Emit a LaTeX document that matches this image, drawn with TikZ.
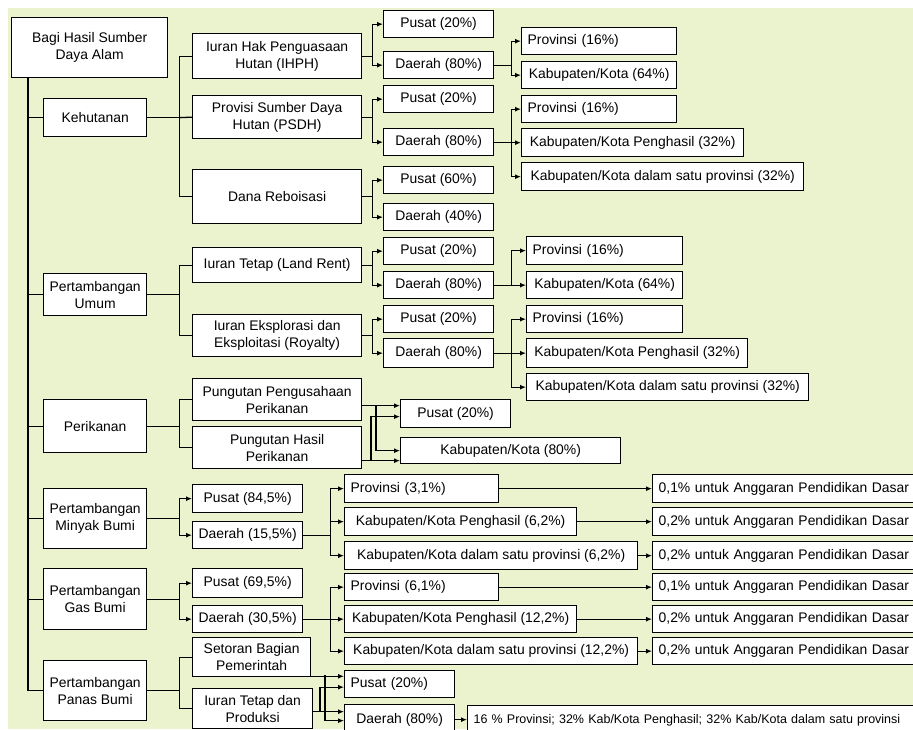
\documentclass[tikz,border=0pt]{standalone}
\usepackage{fontspec}
\setmainfont{Liberation Sans}
\usetikzlibrary{arrows.meta}
\definecolor{bgijo}{RGB}{234,242,206}
\newcommand{\fs}{\fontsize{13.9}{17}\selectfont}

\begin{document}
\begin{tikzpicture}[x=1pt,y=-1pt,
  kotak/.style={draw,line width=1.3pt,fill=white,font=\fs,align=center,anchor=north west,inner sep=0pt},
  lv1/.style={kotak,minimum width=103},
  lv2/.style={kotak,minimum width=169},
  lv3/.style={kotak,minimum width=110,minimum height=27},
  kiri/.style={align=left,text width=#1,inner xsep=6pt},
  garis/.style={line width=1.3pt},
  panah/.style={garis,-{Latex[length=6pt,width=5pt]}}]

  \clip (0,0) rectangle (913,729);
  \fill[white] (0,0) rectangle (913,729);
  \fill[bgijo] (8,8) rectangle (913,729);

  \node[kotak,minimum width=156,minimum height=60] (akar) at (11,17) {Bagi Hasil Sumber\\Daya Alam};
  \node[lv1,minimum height=38] (hutan) at (43,98) {Kehutanan};
  \node[lv1,minimum height=42] (umum) at (43,273) {Pertambangan\\Umum};
  \node[lv1,minimum height=53] (ikan) at (43,399) {Perikanan};
  \node[lv1,minimum height=60] (minyak) at (43,488) {Pertambangan\\Minyak Bumi};
  \node[lv1,minimum height=61] (gas) at (43,568) {Pertambangan\\Gas Bumi};
  \node[lv1,minimum height=60] (panas) at (43,660) {Pertambangan\\Panas Bumi};

  \node[lv2,minimum height=45] (ihph) at (192,33) {Iuran Hak Penguasaan\\Hutan (IHPH)};
  \node[lv2,minimum height=43] (psdh) at (192,95) {Provisi Sumber Daya\\Hutan (PSDH)};
  \node[lv2,minimum height=54] (dana) at (192,169) {Dana Reboisasi};
  \node[lv2,minimum height=35] (tetap) at (192,247) {Iuran Tetap (Land Rent)};
  \node[lv2,minimum height=42] (eksp) at (192,314) {Iuran Eksplorasi dan\\Eksploitasi (Royalty)};
  \node[lv2,minimum height=42] (usaha) at (192,378) {Pungutan Pengusahaan\\Perikanan};
  \node[lv2,minimum height=42] (hasil) at (192,426) {Pungutan Hasil\\Perikanan};
  \node[lv3,minimum height=28] (pusm) at (192,484) {Pusat (84,5\%)};
  \node[lv3] (daem) at (192,521) {Daerah (15,5\%)};
  \node[lv3,minimum height=29] (pusg) at (192,568) {Pusat (69,5\%)};
  \node[lv3] (daeg) at (192,605) {Daerah (30,5\%)};
  \node[kotak,minimum width=118,minimum height=39] (setor) at (192,637) {Setoran Bagian\\Pemerintah};
  \node[kotak,minimum width=120,minimum height=40] (itp) at (192,688) {Iuran Tetap dan\\Produksi};

  \node[lv3] (p1) at (383,10) {Pusat (20\%)};
  \node[lv3] (d1) at (383,51) {Daerah (80\%)};
  \node[lv3] (p2) at (383,85) {Pusat (20\%)};
  \node[lv3] (d2) at (383,128) {Daerah (80\%)};
  \node[lv3] (p3) at (383,166) {Pusat (60\%)};
  \node[lv3] (d3) at (383,203) {Daerah (40\%)};
  \node[lv3] (p4) at (383,237) {Pusat (20\%)};
  \node[lv3] (d4) at (383,271) {Daerah (80\%)};
  \node[lv3] (p5) at (383,305) {Pusat (20\%)};
  \node[lv3,minimum height=29] (d5) at (383,338) {Daerah (80\%)};
  \node[lv3,minimum height=28] (pi) at (400,399) {Pusat (20\%)};
  \node[lv3,minimum width=220,minimum height=26] (ki) at (400,437) {Kabupaten/Kota (80\%)};

  \node[lv3,kiri=143] (pr1) at (521,27) {Provinsi (16\%)};
  \node[lv3,minimum width=155] (kb1) at (521,61) {Kabupaten/Kota (64\%)};
  \node[lv3,kiri=143] (pr2) at (521,95) {Provinsi (16\%)};
  \node[lv3,minimum width=222,minimum height=28] (kp2) at (521,128) {Kabupaten/Kota Penghasil (32\%)};
  \node[lv3,minimum width=282,minimum height=28] (kd2) at (521,162) {Kabupaten/Kota dalam satu provinsi (32\%)};
  \node[lv3,kiri=144,minimum height=28] (pr3) at (526,236) {Provinsi (16\%)};
  \node[lv3,minimum width=156] (kb3) at (526,271) {Kabupaten/Kota (64\%)};
  \node[lv3,kiri=144] (pr4) at (526,305) {Provinsi (16\%)};
  \node[lv3,minimum width=221,minimum height=29] (kp4) at (526,338) {Kabupaten/Kota Penghasil (32\%)};
  \node[lv3,minimum width=282] (kd4) at (526,373) {Kabupaten/Kota dalam satu provinsi (32\%)};

  \node[lv3,kiri=142,minimum height=28] (prm) at (344,474) {Provinsi (3,1\%)};
  \node[lv3,minimum width=232,minimum height=28] (kpm) at (344,507) {Kabupaten/Kota Penghasil (6,2\%)};
  \node[lv3,minimum width=293,minimum height=28] (kdm) at (344,541) {Kabupaten/Kota dalam satu provinsi (6,2\%)};
  \node[lv3,kiri=142] (prg) at (344,573) {Provinsi (6,1\%)};
  \node[lv3,minimum width=232] (kpg) at (344,605) {Kabupaten/Kota Penghasil (12,2\%)};
  \node[lv3,minimum width=293] (kdg) at (344,637) {Kabupaten/Kota dalam satu provinsi (12,2\%)};
  \node[lv3,kiri=98] (pp) at (344,670) {Pusat (20\%)};
  \node[lv3,minimum height=30] (dp) at (344,704) {Daerah (80\%)};

  \node[lv3,kiri=258,minimum height=28] (z1) at (652,474) {0,1\% untuk Anggaran Pendidikan Dasar};
  \node[lv3,kiri=258,minimum height=28] (z2) at (652,507) {0,2\% untuk Anggaran Pendidikan Dasar};
  \node[lv3,kiri=258,minimum height=28] (z3) at (652,541) {0,2\% untuk Anggaran Pendidikan Dasar};
  \node[lv3,kiri=258] (z4) at (652,573) {0,1\% untuk Anggaran Pendidikan Dasar};
  \node[lv3,kiri=258] (z5) at (652,605) {0,2\% untuk Anggaran Pendidikan Dasar};
  \node[lv3,kiri=258] (z6) at (652,637) {0,2\% untuk Anggaran Pendidikan Dasar};
  \node[lv3,kiri=500,minimum height=30,font=\fontsize{12.5}{15}\selectfont] (z7) at (467,705) {16 \% Provinsi; 32\% Kab/Kota Penghasil; 32\% Kab/Kota dalam satu provinsi};

  % batang utama
  \draw[garis] ([xshift=17pt]akar.south west) coordinate (tr) |- (panas.west);
  \draw[garis] (hutan.west) -- (hutan.west -| tr);
  \draw[garis] (umum.west) -- (umum.west -| tr);
  \draw[garis] (ikan.west) -- (ikan.west -| tr);
  \draw[garis] (minyak.west) -- (minyak.west -| tr);
  \draw[garis] (gas.west) -- (gas.west -| tr);

  \draw[garis] (hutan.east) -- ++(32,0) coordinate (kh);
  \draw[garis] (ihph.west) -| (kh) |- (dana.west);
  \draw[garis] (kh) -- (psdh.west);
  \draw[garis] (umum.east) -- ++(32,0) coordinate (ku);
  \draw[garis] (tetap.west) -| (ku) |- (eksp.west);
  \draw[garis] (ikan.east) -- ++(32,0) coordinate (kik);
  \draw[garis] (usaha.west) -| (kik) |- (hasil.west);
  \draw[garis] (minyak.east) -- ++(32,0) coordinate (km);
  \draw[panah] (km) |- (pusm.west);
  \draw[panah] (km) |- (daem.west);
  \draw[garis] (gas.east) -- ++(32,0) coordinate (kg);
  \draw[panah] (kg) |- (pusg.west);
  \draw[panah] (kg) |- (daeg.west);
  \draw[garis] (panas.east) -- ++(32,0) coordinate (kp);
  \draw[garis] (setor.west) -| (kp) |- (itp.west);

  \draw[garis] (ihph.east) -- ++(10,0) coordinate (c1);
  \draw[panah] (c1) |- (p1.west);
  \draw[panah] (c1) |- (d1.west);
  \draw[garis] (psdh.east) -- ++(10,0) coordinate (c2);
  \draw[panah] (c2) |- (p2.west);
  \draw[panah] (c2) |- (d2.west);
  \draw[garis] (dana.east) -- ++(10,0) coordinate (c3);
  \draw[panah] (c3) |- (p3.west);
  \draw[panah] (c3) |- (d3.west);
  \draw[garis] (tetap.east) -- ++(10,0) coordinate (c4);
  \draw[panah] (c4) |- (p4.west);
  \draw[panah] (c4) |- (d4.west);
  \draw[garis] (eksp.east) -- ++(10,0) coordinate (c5);
  \draw[panah] (c5) |- (p5.west);
  \draw[panah] (c5) |- (d5.west);

  \draw[garis] (d1.east) -- ++(17,0) coordinate (e1);
  \draw[panah] (e1) |- (pr1.west);
  \draw[panah] (e1) |- (kb1.west);
  \draw[garis] (d2.east) -- ++(17,0) coordinate (e2);
  \draw[panah] (e2) |- (pr2.west);
  \draw[panah] (e2) |- (kp2.west);
  \draw[panah] (e2) |- (kd2.west);
  \draw[garis] (d4.east) -- ++(17,0) coordinate (e4);
  \draw[panah] (e4) |- (pr3.west);
  \draw[panah] (e4) |- (kb3.west);
  \draw[garis] (d5.east) -- ++(17,0) coordinate (e5);
  \draw[panah] (e5) |- (pr4.west);
  \draw[panah] (e5) |- (kp4.west);
  \draw[panah] (e5) |- (kd4.west);

  % perikanan
  \coordinate (u1) at (376,405);
  \coordinate (h1) at (371,460);
  \draw[panah] ([yshift=-6pt]usaha.east) -- ([yshift=8pt]pi.west);
  \draw[panah] (u1) |- (ki.west);
  \draw[panah] ([yshift=-13pt]hasil.east) -- ([yshift=-10pt]ki.west);
  \draw[panah] (h1) |- ([yshift=-3pt]pi.west);

  \draw[garis] (daem.east) -- ++(27,0) coordinate (em);
  \draw[panah] (em) |- (prm.west);
  \draw[panah] (em) |- (kpm.west);
  \draw[panah] (em) |- (kdm.west);
  \draw[garis] (daeg.east) -- ++(27,0) coordinate (eg);
  \draw[panah] (eg) |- (prg.west);
  \draw[panah] (eg) |- (kpg.west);
  \draw[panah] (eg) |- (kdg.west);

  \draw[panah] (prm.east) -- (z1.west);
  \draw[panah] (kpm.east) -- (z2.west);
  \draw[panah] (kdm.east) -- (z3.west);
  \draw[panah] (prg.east) -- (z4.west);
  \draw[panah] (kpg.east) -- (z5.west);
  \draw[panah] (kdg.east) -- (z6.west);

  % panas bumi
  \coordinate (s1) at (325,675);
  \coordinate (i1) at (320,711);
  \draw[panah] ([yshift=1pt]setor.south east) -- ([yshift=1pt]setor.south east -| pp.west);
  \draw[panah] (s1) |- ([yshift=-1pt]dp.west);
  \draw[panah] ([yshift=-3pt]itp.east) -- ([yshift=-3pt]itp.east -| dp.west);
  \draw[panah] (i1) |- ([yshift=-3pt]pp.west);
  \draw[panah] (dp.east) -- (dp.east -| z7.west);
\end{tikzpicture}
\end{document}
